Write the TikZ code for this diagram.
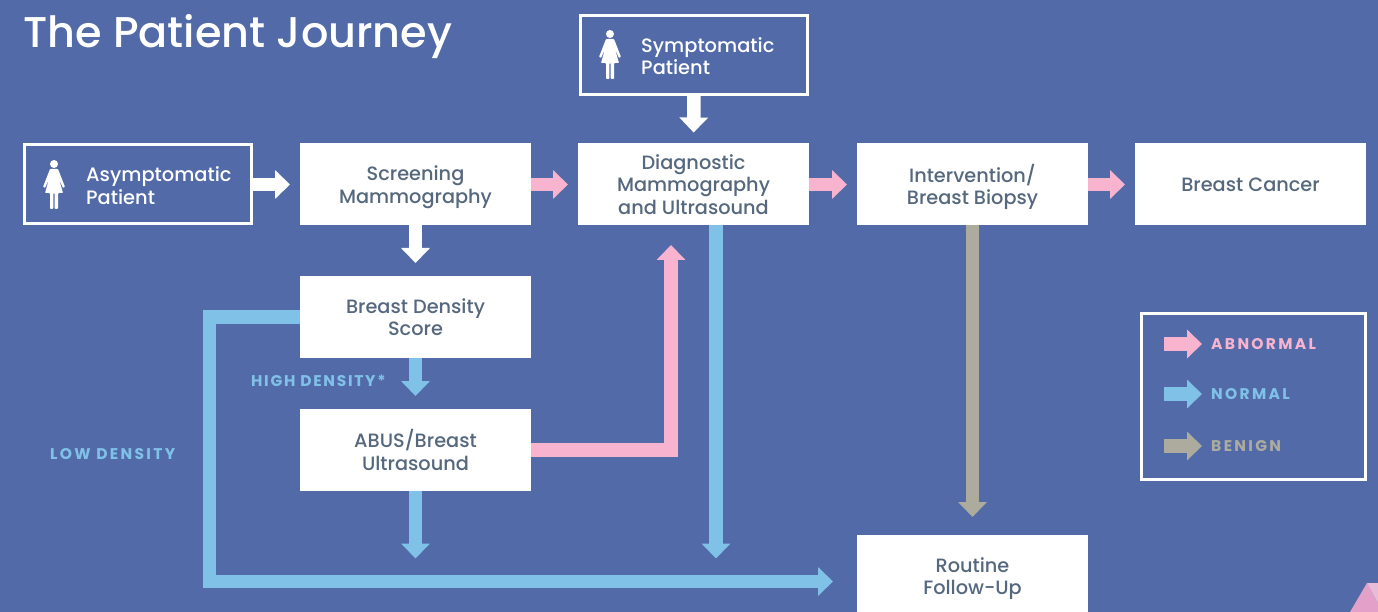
\documentclass[tikz,border=0pt]{standalone}
\usepackage{fontspec}
\setmainfont{Poppins}[UprightFont=* Medium,BoldFont=* Bold]
\usetikzlibrary{arrows.meta}
\definecolor{bgblue}{HTML}{526BA8}
\definecolor{flowblue}{HTML}{80C1E8}
\definecolor{flowpink}{HTML}{F8B3CF}
\definecolor{flowgrey}{HTML}{ACAB9E}
\definecolor{boxtext}{HTML}{56687E}
\definecolor{cornerdark}{HTML}{E3A0C8}
\definecolor{cornerlight}{HTML}{E8BBD9}
\tikzset{
  stepbox/.style={fill=white,text=boxtext,align=center,inner sep=0pt,outer sep=0pt,
    minimum width=231pt,minimum height=82pt,text depth=-2pt,font=\fontsize{19.3}{22.7}\selectfont},
  patientbox/.style={draw=white,line width=3pt,inner sep=0pt,outer sep=0pt,
    minimum width=227pt,minimum height=79pt},
  patienttext/.style={text=white,align=left,anchor=west,inner sep=0pt,
    font=\fontsize{19.4}{22.5}\selectfont},
  flow/.style={line width=13.5pt,-{Triangle[width=28pt,length=15pt]}},
  tag/.style={inner sep=0pt,font=\fontsize{15.5}{18}\selectfont\bfseries\addfontfeature{LetterSpace=15}},
  pics/woman/.style={code={
    \fill[white] (0,-21) circle (4);
    \fill[white,rounded corners=0.8pt] (-4,-16)--(4,-16)--(11,2)--(9,3)--(5,-6)--(9,8)--(4,8)
      --(4,24)--(0.7,24)--(0.7,8)--(-0.7,8)--(-0.7,24)--(-4,24)--(-4,8)--(-9,8)--(-5,-6)
      --(-9,3)--(-11,2)--cycle;
  }}
}
\begin{document}
\begin{tikzpicture}[x=1pt,y=-1pt]
  \useasboundingbox (0,0) rectangle (1378,612);
  \clip (0,0) rectangle (1378,612);
  \fill[bgblue] (0,0) rectangle (1378,612);
  \node[text=white,anchor=west,inner sep=0pt,font=\fontsize{43}{47}\selectfont] (title) at (23,37) {The Patient Journey};
  % top row
  \node[patientbox] (asym) at (138,184.5) {};
  \node[patienttext] (asymtext) at (86,185.5) {Asymptomatic\\Patient};
  \pic at (54,185) {woman};
  \node[patientbox] (sympt) at (694,55) {};
  \node[patienttext] (symptext) at (641,56) {Symptomatic\\Patient};
  \pic at (610,55) {woman};
  \node[stepbox] (screen) at (415.5,184.5) {Screening\\Mammography};
  \node[stepbox] (diag) at (693.5,184.5) {Diagnostic\\Mammography\\and Ultrasound};
  \node[stepbox] (interv) at (972.5,184.5) {Intervention/\\Breast Biopsy};
  \node[stepbox] (cancer) at (1250.5,184.5) {Breast Cancer};
  % lower boxes
  \node[stepbox] (density) at (415.5,317) {Breast Density\\Score};
  \node[stepbox] (abus) at (415.5,450) {ABUS/Breast\\Ultrasound};
  \node[stepbox] (followup) at (972.5,576) {Routine\\Follow-Up};
  % free ends
  \coordinate (abusend) at (415.5,558.5);
  \coordinate (diagout) at (716,225);
  \coordinate (diagend) at (716,558.5);
  \coordinate (diagin) at (671,225);
  \coordinate (lowbend) at (209.5,581.5);
  % white
  \draw[flow,white,shorten >=10pt] (asym.east) -- (screen.west);
  \draw[flow,white,shorten >=11pt] (sympt.south) -- (diag.north);
  \draw[flow,white,shorten >=13pt] (screen.south) -- (density.north);
  % pink
  \draw[flow,flowpink,shorten >=10pt] (screen.east) -- (diag.west);
  \draw[flow,flowpink,shorten >=10pt] (diag.east) -- (interv.west);
  \draw[flow,flowpink,shorten >=10pt] (interv.east) -- (cancer.west);
  \draw[flow,flowpink,shorten >=20pt] (abus.east) -| (diagin);
  % blue
  \draw[flow,flowblue,shorten >=13pt] (density.south) -- (abus.north);
  \draw[flow,flowblue] (abus.south) -- (abusend);
  \draw[flow,flowblue] (diagout) -- (diagend);
  \draw[flow,flowblue,shorten >=24pt] (density.west) -| (lowbend) -- (followup.west |- lowbend);
  % grey
  \draw[flow,flowgrey,shorten >=18pt] (interv.south) -- (followup.north);
  % flow labels
  \node[tag,text=flowblue,anchor=west] (high) at (251,380.5) {\addfontfeature{LetterSpace=11}HIGH DENSITY*};
  \node[tag,text=flowblue,anchor=west] (low) at (50,454.5) {LOW DENSITY};
  % key
  \node[draw=white,line width=3pt,inner sep=0pt,minimum width=224pt,minimum height=166pt] (key) at (1253.5,396) {};
  \coordinate (keya) at (1164,344);
  \coordinate (keyb) at (1164,394);
  \coordinate (keyc) at (1164,446);
  \draw[flow,flowpink] (keya) -- ++(38,0);
  \draw[flow,flowblue] (keyb) -- ++(38,0);
  \draw[flow,flowgrey] (keyc) -- ++(38,0);
  \node[tag,text=flowpink,anchor=west] (abn) at (1211,344.5) {ABNORMAL};
  \node[tag,text=flowblue,anchor=west] (nor) at (1211,394.5) {NORMAL};
  \node[tag,text=flowgrey,anchor=west] (ben) at (1211,446.5) {BENIGN};
  % corner
  \fill[cornerdark] (1350,612)--(1367,583)--(1378,603)--(1378,612)--cycle;
  \fill[cornerlight] (1367,583)--(1378,583)--(1378,603)--cycle;
\end{tikzpicture}
\end{document}
